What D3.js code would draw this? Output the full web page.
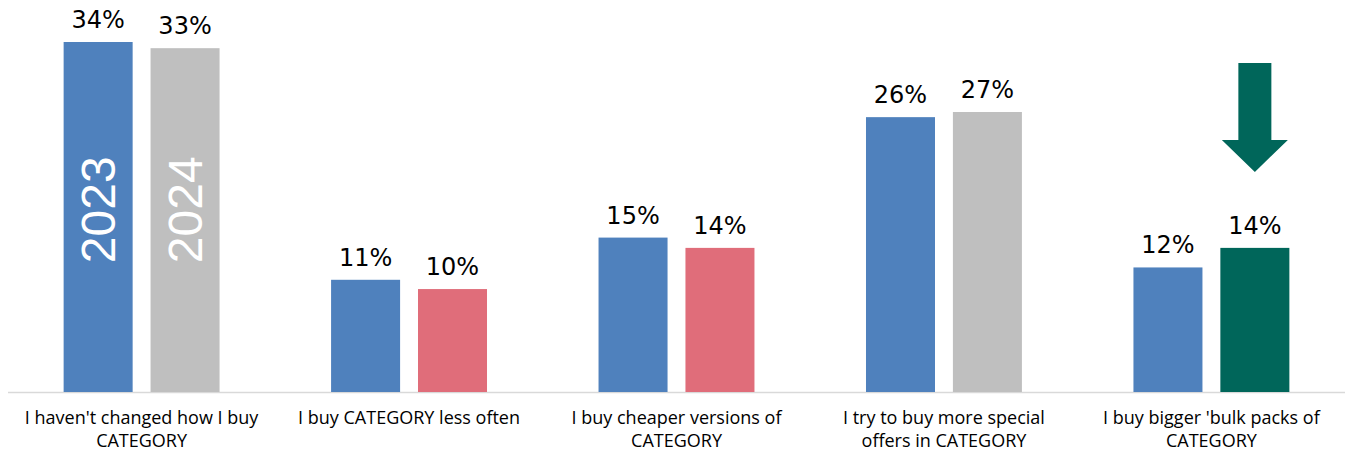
<!DOCTYPE html>
<html>
<head>
<meta charset="utf-8">
<script src="https://cdn.jsdelivr.net/npm/d3@7"></script>
<style>
  html, body { margin: 0; padding: 0; background: #fff; }
  svg { display: block; }
</style>
</head>
<body>
<div id="chart"></div>
<script>
// categories, "|" marks a line break in the axis label
var categories = [
	"I haven't changed how I buy|CATEGORY",
	'I buy CATEGORY less often',
	'I buy cheaper versions of|CATEGORY',
	'I try to buy more special|offers in CATEGORY',
	"I buy bigger 'bulk packs of|CATEGORY"
];
var series = ['2023', '2024'];
var values2023 = [34.0, 10.9, 15.0, 26.7, 12.1];
var values2024 = [33.4, 10.0, 14.0, 27.2, 14.0];
var labels2023 = ['34%', '11%', '15%', '26%', '12%'];
var labels2024 = ['33%', '10%', '14%', '27%', '14%'];
// 2024 bar colour per category: no change / worse / better
var colors2024 = ['#BFBFBF', '#E06D7A', '#E06D7A', '#BFBFBF', '#00665A'];
var color2023 = '#4F81BD';

var width = 1348, height = 454;
var margin = {top: 0, right: 3, bottom: 62, left: 8};
var baseline = height - margin.bottom;

var svg = d3.select('#chart')
	.append('svg')
	.attr('width', width)
	.attr('height', height);

var x0 = d3.scaleBand()
	.domain(categories)
	.range([margin.left, width - margin.right])
	.paddingInner(0.417)
	.paddingOuter(0.208);

var x1 = d3.scaleBand()
	.domain(series)
	.range([0, x0.bandwidth()])
	.paddingInner(0.206);

var y = d3.scaleLinear()
	.domain([0, 34])
	.range([baseline, 42]);

var data = categories.map(function(c, i) {
	return {
		cat: c,
		values: [
			{key: '2023', value: values2023[i], label: labels2023[i], color: color2023},
			{key: '2024', value: values2024[i], label: labels2024[i], color: colors2024[i]}
		]
	};
});

// baseline
svg.append('line')
	.attr('x1', margin.left)
	.attr('x2', width - margin.right)
	.attr('y1', baseline + 0.5)
	.attr('y2', baseline + 0.5)
	.attr('stroke', '#D9D9D9')
	.attr('stroke-width', 1.5);

var groups = svg.selectAll('.grp')
	.data(data)
	.enter()
	.append('g')
	.attr('class', 'grp')
	.attr('transform', function(d) { return 'translate(' + x0(d.cat) + ',0)'; });

groups.selectAll('rect')
	.data(function(d) { return d.values; })
	.enter()
	.append('rect')
	.attr('x', function(d) { return x1(d.key); })
	.attr('width', x1.bandwidth())
	.attr('y', function(d) { return y(d.value); })
	.attr('height', function(d) { return baseline - y(d.value); })
	.attr('fill', function(d) { return d.color; });

groups.selectAll('.val')
	.data(function(d) { return d.values; })
	.enter()
	.append('text')
	.attr('class', 'val')
	.attr('x', function(d) { return x1(d.key) + x1.bandwidth() / 2; })
	.attr('y', function(d) { return y(d.value) - 14; })
	.attr('text-anchor', 'middle')
	.style('font-family', '"Century Gothic", "URW Gothic", "DejaVu Sans", sans-serif')
	.style('font-size', '24px')
	.style('fill', '#000')
	.text(function(d) { return d.label; });

// series names written inside the first pair of bars
svg.selectAll('.yr')
	.data(series)
	.enter()
	.append('text')
	.attr('class', 'yr')
	.attr('transform', function(d) {
		var cx = x0(categories[0]) + x1(d) + x1.bandwidth() / 2;
		return 'translate(' + (cx + 17) + ',' + y(17.7) + ') rotate(-90)';
	})
	.attr('text-anchor', 'middle')
	.style('font-family', '"Liberation Sans", Arial, sans-serif')
	.style('font-size', '48px')
	.style('fill', '#fff')
	.text(function(d) { return d; });

// category labels
var xAxis = svg.append('g');
categories.forEach(function(c) {
	var t = xAxis.append('text')
		.attr('x', x0(c) + x0.bandwidth() / 2)
		.attr('y', baseline + 32)
		.attr('text-anchor', 'middle')
		.style('font-family', '"Open Sans", Lato, sans-serif')
		.style('font-size', '18px')
		.style('fill', '#000');
	c.split('|').forEach(function(line, i) {
		t.append('tspan')
			.attr('x', x0(c) + x0.bandwidth() / 2)
			.attr('dy', i === 0 ? 0 : 22.5)
			.text(line);
	});
});

// down arrow over the bulk packs 2024 bar
var ac = x0(categories[4]) + x1('2024') + x1.bandwidth() / 2;
var tip = y(values2024[4]) - 76;
var arrow = d3.path();
arrow.moveTo(ac - 16.5, tip - 109);
arrow.lineTo(ac + 16.5, tip - 109);
arrow.lineTo(ac + 16.5, tip - 32);
arrow.lineTo(ac + 33, tip - 32);
arrow.lineTo(ac, tip);
arrow.lineTo(ac - 33, tip - 32);
arrow.lineTo(ac - 16.5, tip - 32);
arrow.closePath();
svg.append('path')
	.attr('d', arrow.toString())
	.attr('fill', '#00665A');
</script>
</body>
</html>
